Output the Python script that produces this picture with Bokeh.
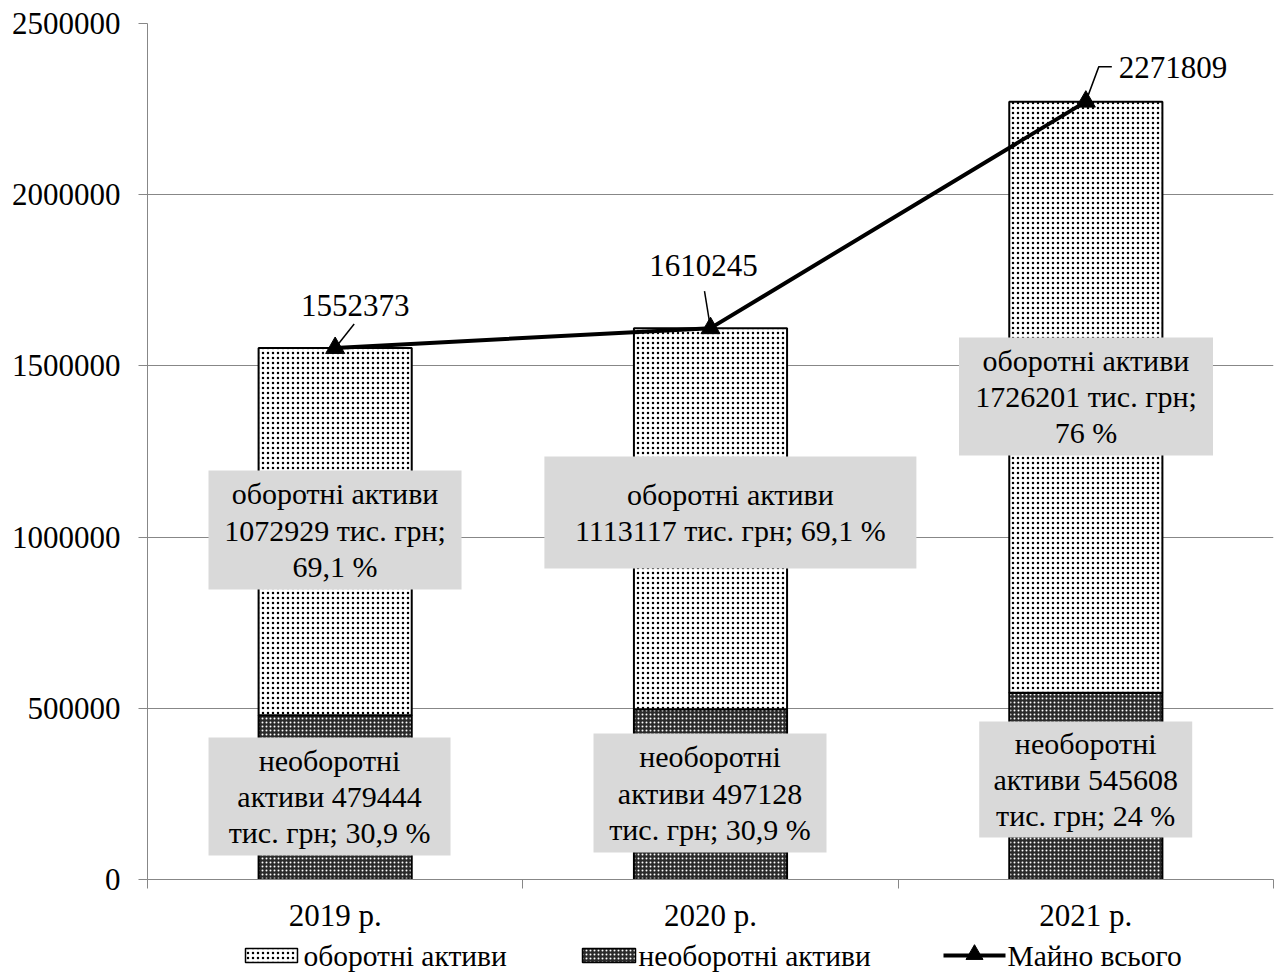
from bokeh.plotting import figure
from bokeh.layouts import column
from bokeh.models import Range1d, FixedTicker, BasicTickFormatter, ColumnDataSource
from bokeh.core.properties import value
from bokeh.embed import file_html
from bokeh.resources import INLINE

# --- data (тис. грн) ---
years = ["2019 р.", "2020 р.", "2021 р."]
current_assets = [1072929, 1113117, 1726201]
noncurrent_assets = [479444, 497128, 545608]
total_assets = [1552373, 1610245, 2271809]
current_share = ["69,1 %", "69,1 %", "76 %"]
noncurrent_share = ["30,9 %", "30,9 %", "24 %"]
y_ticks = [0, 500000, 1000000, 1500000, 2000000, 2500000]
legend_labels = ["оборотні активи", "необоротні активи", "Майно всього"]

FONT = value("Liberation Serif")
GRID = "#878787"

W = 1279
LEFT, RIGHT, TOP, BOTTOM = 147, 6, 23, 61
FRAME_W = 1126
FRAME_H = 856
Y_MAX = 2500000
LEGEND_H = 32

# styles shared by the chart and its legend strip
CUR_STYLE = dict(fill_color="white", line_color="black", line_width=2,
                 hatch_pattern="dot", hatch_color="black", hatch_scale=5,
                 hatch_weight=1.0)
NON_STYLE = dict(fill_color="#2a2a2a", line_color="black", line_width=2,
                 hatch_pattern="dot", hatch_color="white", hatch_scale=4,
                 hatch_weight=1.4)
LINE_STYLE = dict(line_color="black", line_width=4)
MARK_STYLE = dict(marker="triangle", size=19, fill_color="black",
                  line_color="black")

p = figure(width=W, height=TOP + FRAME_H + BOTTOM,
           output_backend="svg", toolbar_location=None,
           x_range=Range1d(0, len(years)), y_range=Range1d(0, Y_MAX),
           min_border_left=LEFT, min_border_right=RIGHT,
           min_border_top=TOP, min_border_bottom=BOTTOM,
           background_fill_color="white", border_fill_color="white")
p.outline_line_color = None

# pixel offsets -> data offsets
def dx(px):
    return px * len(years) / FRAME_W

def dy(px):
    return -px * Y_MAX / FRAME_H

xc = [i + 0.5 for i in range(len(years))]

# stacked bars
src = ColumnDataSource(dict(x=xc, non=noncurrent_assets, tot=total_assets,
                            zero=[0] * len(years)))
bar_w = 0.408
p.vbar(x="x", bottom="zero", top="non", width=bar_w, source=src, **NON_STYLE)
p.vbar(x="x", bottom="non", top="tot", width=bar_w, source=src, **CUR_STYLE)

# total line
p.line(xc, total_assets, **LINE_STYLE)
p.scatter(xc, total_assets, **MARK_STYLE)

# value labels with leader lines
lab_off = [(20, -42), (-7, -63), (33, -34)]
lab_align = ["center", "center", "left"]
leaders = [[(0, 0), (19, -24)], [(0, 0), (-6, -37)],
           [(0, 0), (13, -35), (26, -35)]]
lx, ly = [], []
for i, pts in enumerate(leaders):
    lx.append([xc[i] + dx(a) for a, b in pts])
    ly.append([total_assets[i] + dy(b) for a, b in pts])
p.multi_line(lx, ly, line_color="black", line_width=1.5)
for i in range(len(years)):
    p.text(x=[xc[i]], y=[total_assets[i]], text=[str(total_assets[i])],
           x_offset=lab_off[i][0], y_offset=lab_off[i][1],
           text_align=lab_align[i], text_baseline="middle",
           text_font=FONT, text_font_size="31px", text_color="black")

# data-label boxes
upper_text = [
    f"оборотні активи\n{current_assets[0]} тис. грн;\n{current_share[0]}",
    f"оборотні активи\n{current_assets[1]} тис. грн; {current_share[1]}",
    f"оборотні активи\n{current_assets[2]} тис. грн;\n{current_share[2]}",
]
lower_text = [
    f"необоротні\nактиви {noncurrent_assets[i]}\nтис. грн; {noncurrent_share[i]}"
    for i in range(len(years))
]
upper_box = dict(x=[0.4996, 1.553, 2.5004], y=[1020700, 1071800, 1410600],
                 w=[253, 372, 254], h=[119, 112, 118])
lower_box = dict(x=[0.485, 1.4987, 2.4997], y=[242400, 252600, 292000],
                 w=[242, 233, 213], h=[118, 119, 116])
for box, texts in ((upper_box, upper_text), (lower_box, lower_text)):
    p.rect(x=box["x"], y=box["y"], width=box["w"], height=box["h"],
           width_units="screen", height_units="screen",
           fill_color="#d9d9d9", line_color=None)
    p.text(x=box["x"], y=box["y"], text=texts, text_align="center",
           text_baseline="middle", text_font=FONT, text_font_size="30px",
           text_line_height=1.1, text_color="black")

# axes
p.xgrid.visible = False
p.ygrid.grid_line_color = GRID
p.ygrid.grid_line_width = 1
p.ygrid.ticker = FixedTicker(ticks=y_ticks)

ya = p.yaxis[0]
ya.ticker = FixedTicker(ticks=y_ticks, minor_ticks=[])
ya.formatter = BasicTickFormatter(use_scientific=False)
ya.axis_line_color = GRID
ya.major_tick_line_color = GRID
ya.major_tick_in = 0
ya.major_tick_out = 9
ya.major_label_standoff = 18
ya.major_label_text_font = "Liberation Serif"
ya.major_label_text_font_size = "31px"
ya.major_label_text_color = "black"

xa = p.xaxis[0]
xa.ticker = FixedTicker(ticks=xc, minor_ticks=list(range(len(years) + 1)))
xa.major_label_overrides = {x: y for x, y in zip(xc, years)}
xa.axis_line_color = GRID
xa.major_tick_line_color = None
xa.major_tick_out = 0
xa.major_tick_in = 0
xa.minor_tick_line_color = GRID
xa.minor_tick_out = 9
xa.minor_tick_in = 0
xa.major_label_standoff = 9
xa.major_label_text_font = "Liberation Serif"
xa.major_label_text_font_size = "31px"
xa.major_label_text_color = "black"

# legend strip under the chart; its frame lines up with the chart frame,
# so the x range is expressed in page pixels
lg = figure(width=W, height=LEGEND_H, output_backend="svg",
            toolbar_location=None, x_axis_type=None, y_axis_type=None,
            x_range=Range1d(LEFT, W - RIGHT), y_range=Range1d(0, LEGEND_H),
            min_border=0, min_border_left=LEFT, min_border_right=RIGHT,
            background_fill_color="white", border_fill_color="white")
lg.outline_line_color = None
lg.xgrid.visible = False
lg.ygrid.visible = False

mid = 17
key_cur = dict(CUR_STYLE, line_width=1.5)
key_non = dict(NON_STYLE, line_width=1.5)
lg.rect(x=[271], y=[mid], width=52, height=14, **key_cur)
lg.rect(x=[608.5], y=[mid], width=53, height=14, **key_non)
lg.line(x=[943, 1005], y=[mid, mid], **LINE_STYLE)
lg.scatter(x=[974], y=[mid + 1], **dict(MARK_STYLE, size=17))
lg.text(x=[303, 638, 1007], y=[mid] * 3, text=legend_labels,
        text_align="left", text_baseline="middle", text_font=FONT,
        text_font_size="29.5px", text_color="black")

page = column(p, lg, spacing=0)
open("out.html", "w").write(file_html(page, INLINE))
